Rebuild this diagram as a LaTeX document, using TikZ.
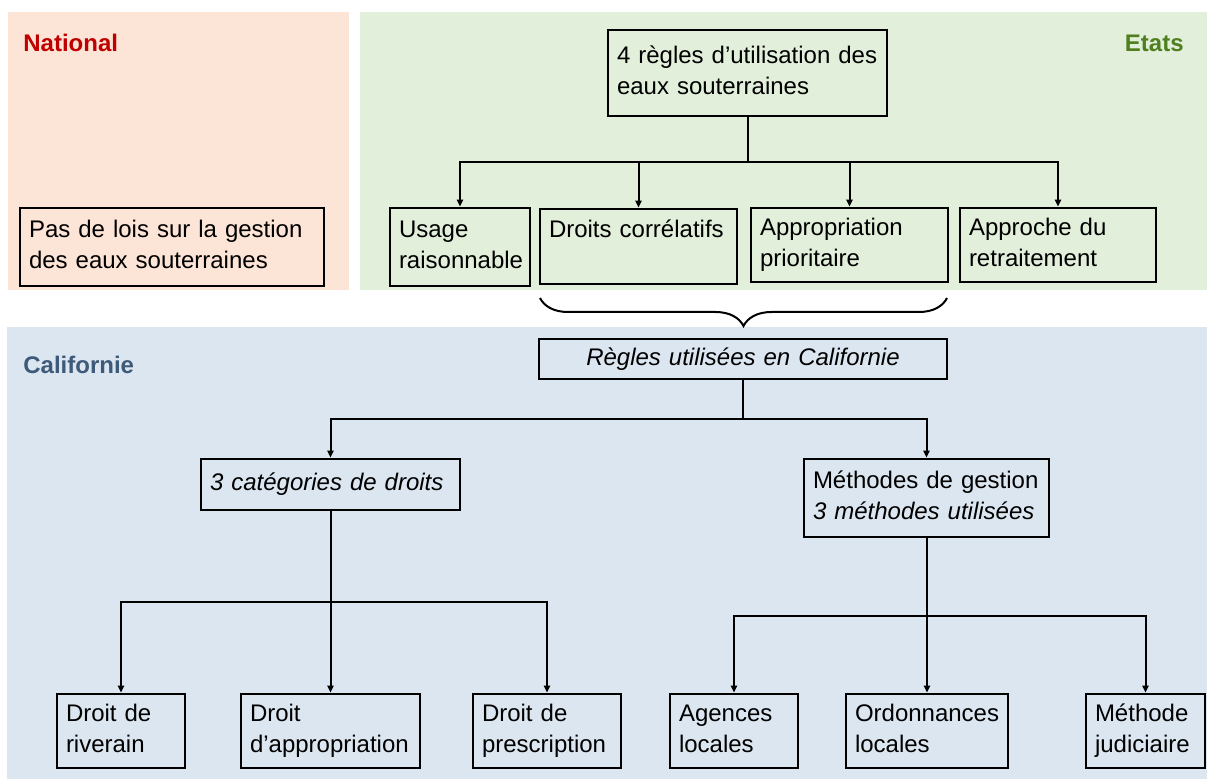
\documentclass[tikz,border=0pt]{standalone}
\usepackage{fontspec}
\setmainfont{Liberation Sans}
\usetikzlibrary{arrows.meta,decorations.pathreplacing}
\definecolor{natbg}{HTML}{FCE4D6}
\definecolor{etabg}{HTML}{E2EFDA}
\definecolor{calbg}{HTML}{DCE6F0}
\definecolor{natfg}{HTML}{C00000}
\definecolor{etafg}{HTML}{4F7F1F}
\definecolor{calfg}{HTML}{3D5A7A}
\newcommand{\boxfont}{\fontsize{12}{15.5}\selectfont}
\tikzset{
  box/.style={draw,line width=1.3pt,align=left,inner xsep=4.5pt,inner ysep=0pt,font=\boxfont,
    execute at begin node=\strut,execute at end node=\strut},
  ibox/.style={box,font=\boxfont\itshape},
  lbl/.style={font=\fontsize{12}{14}\selectfont\bfseries,inner sep=0pt},
  ar/.style={-{Triangle[length=3.5pt,width=3pt]},line width=1pt},
  ln/.style={line width=1pt},
  brc/.style={decorate,decoration={brace,mirror,amplitude=14pt},line width=1pt},
}

\begin{document}
\begin{tikzpicture}[x=0.5pt,y=-0.5pt]
\useasboundingbox (0,0) rectangle (1207,781);
% panels
\fill[natbg] (8,12) rectangle (349,290);
\fill[etabg] (360,12) rectangle (1207,290);
\fill[calbg] (7,327) rectangle (1207,779);
\node[lbl,natfg,anchor=base west] (natl) at (23,52) {National};
\node[lbl,etafg,anchor=base east] (etal) at (1184,52) {Etats};
\node[lbl,calfg,anchor=base west] (call) at (23,373) {Californie};
% national
\node[box,text width=143pt,minimum height=39pt] (nat) at (172,247)
   {Pas de lois sur la gestion\\des eaux souterraines};
% etats
\node[box,text width=130.5pt,minimum height=43pt] (regles) at (747.5,73)
   {4 règles d’utilisation des\\eaux souterraines};
\node[box,text width=61pt,minimum height=39pt] (usage) at (460,247) {Usage\\raisonnable};
\node[box,text width=89.5pt,minimum height=37.5pt] (correl) at (638.5,246.5) {Droits corrélatifs\\\mbox{}};
\node[box,text width=89.5pt,minimum height=37pt] (appro) at (849.5,245) {Appropriation\\prioritaire};
\node[box,text width=89pt,minimum height=37pt] (retrait) at (1058,245) {Approche du\\retraitement};
\coordinate (j1) at (regles.south |- 0,162);
\draw[ln] (regles.south) -- (j1);
\foreach \t in {usage,correl,appro,retrait}
  \draw[ar] (j1) -| (\t.north);
% brace
\coordinate (b1) at (540,298);
\coordinate (b2) at (947,298);
\draw[brc] (b1) -- (b2);
% californie
\node[ibox,align=center,text width=195pt,minimum height=20pt] (calif) at (743,359) {Règles utilisées en Californie};
\node[ibox,text width=120.5pt,minimum height=25.5pt] (cat) at (330.5,484.5) {3 catégories de droits};
\node[box,text width=113.5pt,minimum height=39pt] (meth) at (926.5,498)
   {Méthodes de gestion\\\textit{3 méthodes utilisées}};
\coordinate (j2) at (calif.south |- 0,419);
\draw[ln] (calif.south) -- (j2);
\foreach \t in {cat,meth}
  \draw[ar] (j2) -| (\t.north);
% droits
\node[box,text width=55pt,minimum height=37pt] (riv) at (121,731) {Droit de\\riverain};
\node[box,text width=80.5pt,minimum height=37pt] (dapp) at (330.5,731) {Droit\\d’appropriation};
\node[box,text width=65pt,minimum height=37pt] (presc) at (547,731) {Droit de\\prescription};
\coordinate (j3) at (cat.south |- 0,602);
\draw[ln] (cat.south) -- (j3);
\foreach \t in {riv,dapp,presc}
  \draw[ar] (j3) -| (\t.north);
% methodes
\node[box,text width=55pt,minimum height=37pt] (agen) at (734,731) {Agences\\locales};
\node[box,text width=72pt,minimum height=37pt] (ordo) at (927,731) {Ordonnances\\locales};
\node[box,text width=50.5pt,minimum height=37pt] (judi) at (1145.5,731) {Méthode\\judiciaire};
\coordinate (j4) at (meth.south |- 0,616);
\draw[ln] (meth.south) -- (j4);
\foreach \t in {agen,ordo,judi}
  \draw[ar] (j4) -| (\t.north);
\end{tikzpicture}
\end{document}
